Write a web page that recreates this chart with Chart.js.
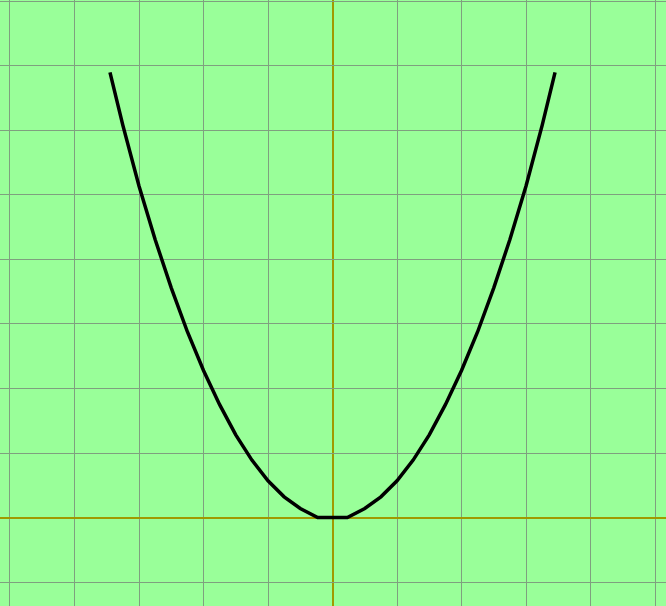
<!DOCTYPE html>
<html>
<head>
<meta charset="utf-8">
<script src="https://cdn.jsdelivr.net/npm/chart.js@4"></script>
<style>
  html, body { margin: 0; padding: 0; background: #99ff99; }
  canvas { display: block; }
</style>
</head>
<body>
<canvas id="curve-chart" width="666" height="606"></canvas>
<script>
// curve points, in grid units
const xValues = [-3.45, -3.25, -3.0, -2.75, -2.5, -2.25, -2.0, -1.75, -1.5, -1.25, -1.0, -0.75, -0.5, -0.23,
                 0, 0.23, 0.5, 0.75, 1.0, 1.25, 1.5, 1.75, 2.0, 2.25, 2.5, 2.75, 3.0, 3.25, 3.45];
const yValues = [6.9, 6.08, 5.14, 4.31, 3.56, 2.88, 2.28, 1.75, 1.28, 0.89, 0.57, 0.32, 0.14, 0.0,
                 0.0, 0.0, 0.14, 0.32, 0.57, 0.89, 1.28, 1.75, 2.28, 2.88, 3.56, 4.31, 5.14, 6.08, 6.9];

// visible window (grid units)
const xRange = [-5.155, 5.17];
const yRange = [-1.372, 8.023];

const GRID_COLOR = '#7fa07f';
const AXIS_COLOR = '#a09a00';

const curveBox = document.getElementById('curve-chart');

if (curveBox) {
  const ctx = curveBox.getContext('2d');

  const gridStyle = {
    drawTicks : false,
    color     : (c) => (c.tick && c.tick.value === 0 ? AXIS_COLOR : GRID_COLOR),
    lineWidth : (c) => (c.tick && c.tick.value === 0 ? 2 : 1),
  };

  new Chart(ctx, {
    type: 'line',
    data: {
      datasets: [{
        data        : xValues.map((x, i) => ({ x: x, y: yValues[i] })),
        borderColor : '#000000',
        borderWidth : 3.5,
        pointRadius : 0,
        tension     : 0,
        fill        : false,
      }],
    },
    options: {
      responsive : false,
      animation  : false,
      layout     : { padding: 0, autoPadding: false },
      plugins    : { legend: { display: false }, tooltip: { enabled: false } },
      scales: {
        x: {
          type   : 'linear',
          min    : xRange[0],
          max    : xRange[1],
          border : { display: false },
          grid   : gridStyle,
          ticks  : { display: false, stepSize: 1, includeBounds: false },
        },
        y: {
          type   : 'linear',
          min    : yRange[0],
          max    : yRange[1],
          border : { display: false },
          grid   : gridStyle,
          ticks  : { display: false, stepSize: 1, includeBounds: false },
        },
      },
    },
  });
}
</script>
</body>
</html>
